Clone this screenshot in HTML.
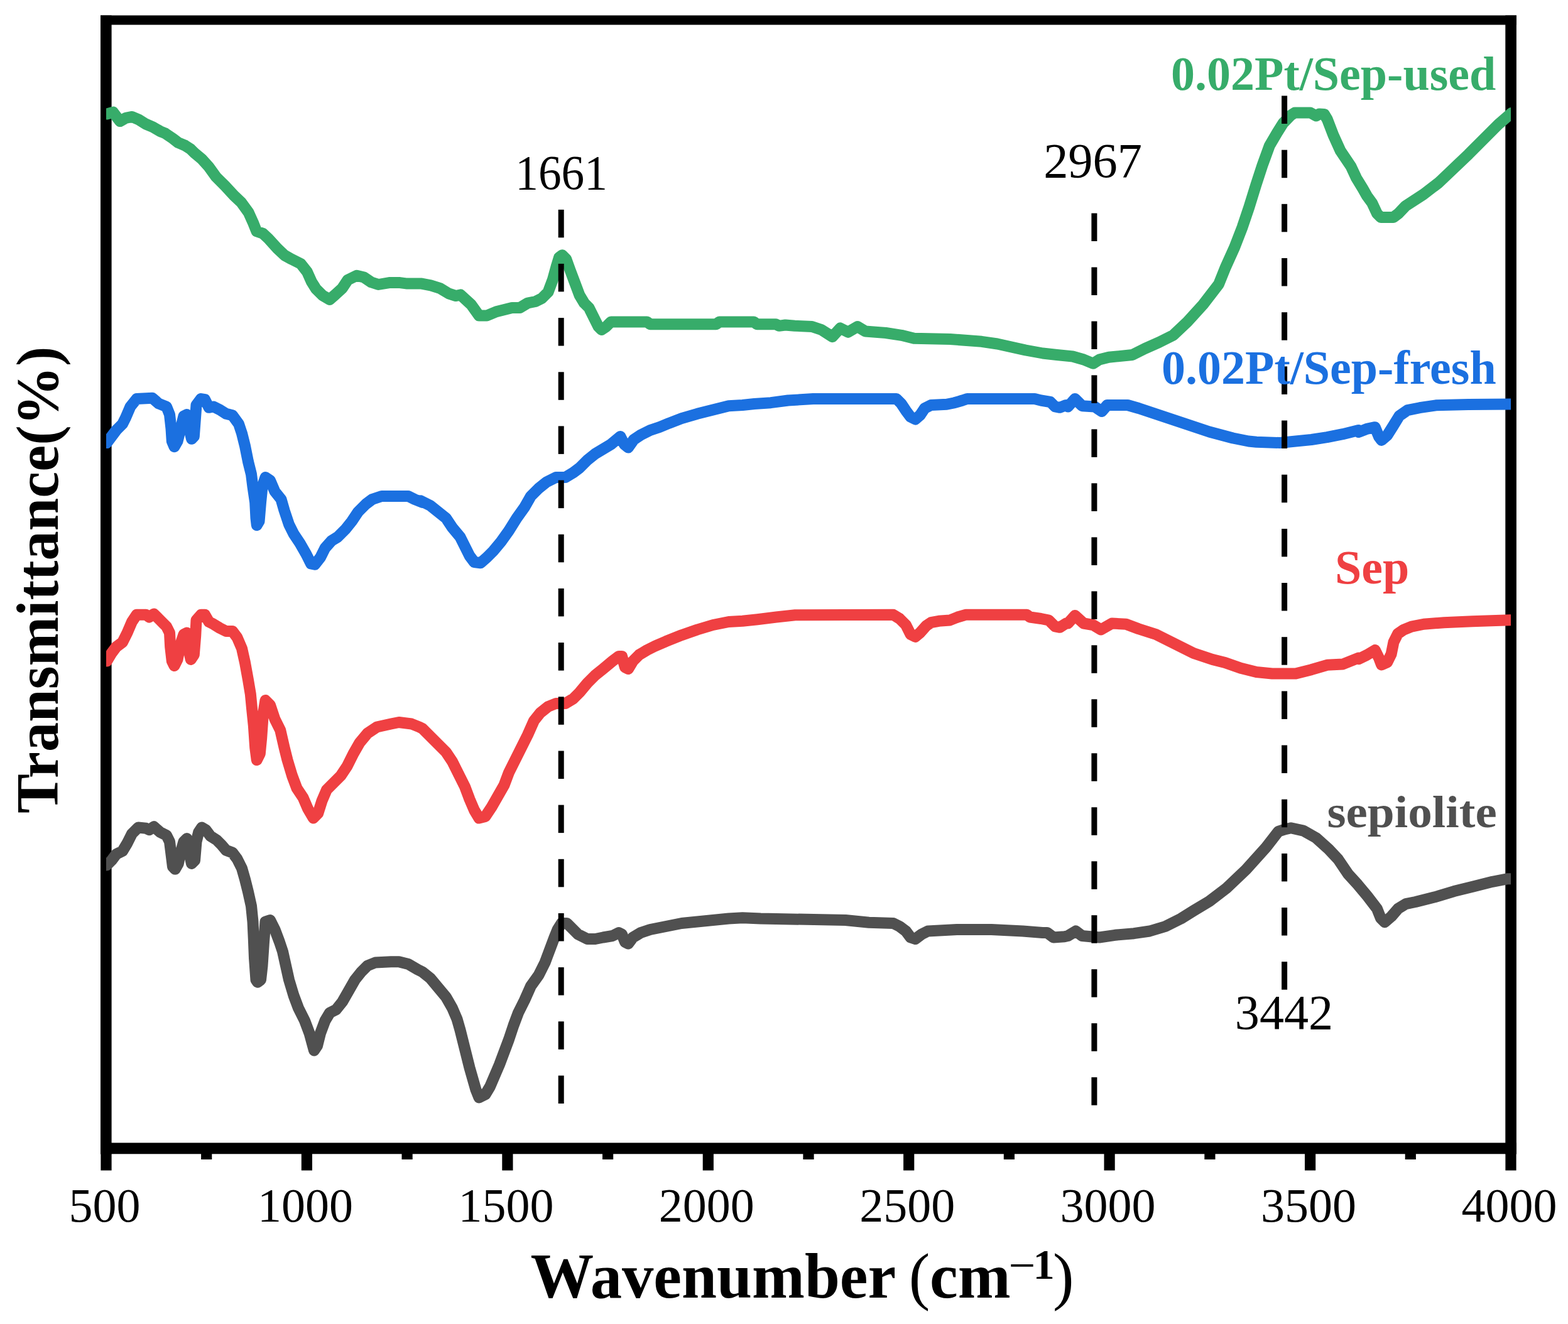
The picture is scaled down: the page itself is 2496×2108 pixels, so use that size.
<!DOCTYPE html>
<html><head><meta charset="utf-8"><title>FTIR spectra</title>
<style>html,body{margin:0;padding:0;background:#fff;}svg{display:block;}</style>
</head><body>
<svg width="2496" height="2108" viewBox="0 0 2496 2108"><g fill="#000">
<rect x="160" y="24.5" width="2254" height="15"/>
<rect x="160" y="1819.5" width="2254" height="17.8"/>
<rect x="160" y="24.5" width="17.6" height="1813"/>
<rect x="2396.3" y="24.5" width="17.6" height="1813"/>
<rect x="160.4" y="1830" width="17.2" height="33.5"/>
<rect x="479.8" y="1830" width="17.2" height="33.5"/>
<rect x="799.3" y="1830" width="17.2" height="33.5"/>
<rect x="1118.7" y="1830" width="17.2" height="33.5"/>
<rect x="1438.1" y="1830" width="17.2" height="33.5"/>
<rect x="1757.5" y="1830" width="17.2" height="33.5"/>
<rect x="2077.0" y="1830" width="17.2" height="33.5"/>
<rect x="2396.4" y="1830" width="17.2" height="33.5"/>
<rect x="320.1" y="1830" width="17.2" height="16"/>
<rect x="639.5" y="1830" width="17.2" height="16"/>
<rect x="959.0" y="1830" width="17.2" height="16"/>
<rect x="1278.4" y="1830" width="17.2" height="16"/>
<rect x="1597.8" y="1830" width="17.2" height="16"/>
<rect x="1917.3" y="1830" width="17.2" height="16"/>
<rect x="2236.7" y="1830" width="17.2" height="16"/>
</g>
<clipPath id="pc"><rect x="169" y="0" width="2236" height="2108"/></clipPath>
<g clip-path="url(#pc)">
<polyline points="160.0,181.6 170.1,181.6 180.1,178.7 191.0,193.1 200.2,187.9 210.3,185.9 220.3,190.2 231.8,197.4 243.3,202.3 254.8,208.9 263.4,212.6 274.9,220.4 283.5,227.0 295.0,231.9 303.6,237.6 309.4,243.3 320.8,252.8 332.3,265.5 343.8,281.5 358.2,295.9 372.5,311.4 384.0,322.3 395.5,338.1 402.7,353.9 408.4,368.3 418.5,371.7 427.1,379.8 441.5,395.6 453.0,406.5 464.4,412.8 478.8,420.0 488.9,432.9 496.0,448.7 503.2,460.2 513.3,470.2 524.8,476.9 533.4,469.4 544.9,458.8 553.5,445.8 567.8,438.7 579.3,441.5 590.8,449.3 602.3,453.0 619.5,450.1 636.8,450.1 648.3,451.6 671.2,451.6 685.6,454.4 700.0,458.8 714.3,467.4 725.8,471.1 733.0,469.4 750.0,485.0 762.5,502.5 775.0,502.5 790.0,496.2 805.0,492.5 815.0,490.0 827.5,490.0 840.0,482.5 852.5,480.0 862.5,475.0 872.5,465.0 880.0,445.0 886.2,422.5 890.0,410.0 895.0,406.2 901.2,412.5 907.5,430.0 915.0,450.0 922.5,470.0 930.0,482.5 937.5,490.0 942.5,500.0 947.5,510.0 952.5,520.0 957.5,525.0 965.0,520.0 972.5,512.5 990.0,512.5 1030.0,512.5 1035.0,516.2 1140.0,516.2 1145.0,512.5 1200.0,512.5 1205.0,516.2 1235.0,516.2 1240.0,518.8 1250.0,517.5 1265.0,518.8 1292.5,520.0 1307.5,525.0 1325.0,536.2 1337.5,522.5 1350.0,528.8 1365.0,520.0 1377.5,527.5 1410.0,530.0 1435.0,533.8 1455.0,538.8 1512.5,540.0 1562.5,543.8 1587.5,547.5 1610.0,552.5 1632.5,557.5 1660.0,562.5 1682.5,565.0 1707.5,567.5 1725.0,572.5 1740.0,578.8 1750.0,572.5 1765.0,568.8 1802.5,565.0 1822.5,555.0 1845.0,545.0 1867.5,533.8 1890.0,512.5 1915.0,485.0 1940.0,452.5 1951.0,425.2 1965.3,393.5 1977.6,361.7 1988.3,330.0 1999.1,295.2 2009.4,263.5 2021.0,231.7 2033.0,211.3 2042.6,196.0 2054.5,183.7 2061.0,179.5 2086.0,179.5 2095.0,184.5 2100.0,181.5 2108.0,182.0 2112.8,190.0 2122.4,215.0 2133.7,240.0 2150.5,265.0 2159.2,283.6 2169.2,300.0 2176.0,312.0 2184.2,323.2 2192.0,340.0 2198.0,346.0 2218.0,346.0 2226.0,340.0 2237.4,328.0 2266.0,309.4 2290.0,291.0 2337.6,245.7 2385.2,198.0 2406.0,180.0 2416.0,180.0" fill="none" stroke="#37AC6A" stroke-width="18" stroke-linejoin="round" stroke-linecap="butt"/>
<polyline points="160.0,705.0 170.0,705.0 177.5,695.0 185.0,685.0 195.0,675.0 200.0,665.0 207.5,647.5 217.5,635.0 242.5,633.8 252.5,642.5 265.0,647.5 270.0,660.0 272.5,682.5 273.8,702.5 277.5,711.2 282.5,702.5 287.5,682.5 292.5,662.5 297.5,660.0 301.2,682.5 305.0,698.8 308.8,695.0 311.2,662.5 312.5,645.0 320.0,635.0 326.2,636.2 332.5,648.8 340.0,647.5 350.0,652.5 360.0,658.8 370.0,661.2 380.0,675.0 385.0,690.0 390.0,710.0 395.0,735.0 400.0,755.0 402.5,775.0 406.2,800.0 407.5,825.0 408.8,836.2 412.5,830.0 415.0,800.0 417.5,775.0 422.5,760.0 430.0,765.0 437.5,782.5 447.5,795.0 452.5,812.5 460.0,835.0 467.5,850.0 477.5,865.0 487.5,882.5 495.0,897.5 501.2,898.8 510.0,887.5 517.5,872.5 527.5,861.2 537.5,855.0 550.0,842.5 560.0,830.0 570.0,815.0 582.5,802.5 592.5,795.0 607.5,790.0 650.0,790.0 660.0,795.0 672.5,800.0 670.0,797.5 685.0,805.0 697.5,815.0 710.0,825.0 720.0,840.0 732.5,855.0 740.0,870.0 747.5,885.0 755.0,895.0 765.0,896.2 775.0,887.5 785.0,877.5 797.5,862.5 810.0,845.0 822.5,825.0 835.0,807.5 845.0,790.0 857.5,777.5 870.0,767.5 885.0,760.0 900.0,760.0 912.5,752.5 922.5,745.0 935.0,732.5 947.5,722.5 960.0,715.0 972.5,707.5 987.5,695.0 993.8,707.5 1000.0,712.5 1008.8,700.0 1020.0,692.5 1035.0,685.0 1050.0,680.0 1065.0,673.8 1085.0,666.2 1110.0,658.8 1135.0,652.5 1160.0,646.2 1182.0,645.0 1200.8,643.0 1227.0,641.2 1254.5,637.5 1294.5,635.0 1427.0,635.0 1434.5,642.5 1442.0,653.8 1449.5,663.8 1457.0,667.5 1464.5,661.2 1472.0,650.0 1482.0,645.0 1507.0,643.8 1519.5,641.2 1532.0,637.5 1539.5,635.0 1647.0,635.0 1657.0,637.5 1672.0,640.0 1679.5,647.5 1687.0,648.8 1697.0,645.0 1700.0,647.5 1711.2,635.0 1722.5,646.2 1742.5,647.5 1753.8,655.0 1762.5,645.0 1795.0,645.0 1812.5,650.0 1850.0,662.5 1887.5,675.0 1925.0,687.5 1962.5,697.5 1987.5,702.5 2000.0,703.8 2037.5,705.0 2050.0,703.8 2087.5,700.0 2112.5,696.2 2137.5,691.2 2162.5,685.0 2162.9,688.0 2175.8,682.8 2188.8,680.2 2195.2,695.7 2199.1,700.9 2208.2,693.1 2217.2,678.9 2227.5,662.1 2240.5,653.1 2259.9,649.2 2285.7,645.3 2337.4,644.0 2403.3,643.4 2416.0,643.4" fill="none" stroke="#1B70E0" stroke-width="18" stroke-linejoin="round" stroke-linecap="butt"/>
<polyline points="160.0,1052.5 170.0,1052.5 177.5,1040.0 185.0,1030.0 195.0,1022.5 202.5,1007.5 210.0,990.0 217.5,978.8 232.5,978.8 237.5,982.5 245.0,977.5 255.0,987.5 265.0,997.5 270.0,1007.5 271.2,1030.0 273.8,1052.5 277.5,1060.0 282.5,1050.0 287.5,1025.0 292.5,1010.0 297.5,1007.5 300.0,1032.5 303.8,1050.0 308.8,1042.5 311.2,1012.5 312.5,987.5 320.0,978.8 326.2,978.8 332.5,990.0 340.0,993.8 350.0,1000.0 360.0,1005.0 370.0,1005.0 377.5,1015.0 385.0,1032.5 390.0,1055.0 395.0,1082.5 398.8,1105.0 401.2,1130.0 403.8,1155.0 406.2,1190.0 408.8,1210.0 413.8,1200.0 416.2,1175.0 418.8,1137.5 422.5,1115.0 430.0,1122.5 437.5,1145.0 446.2,1162.5 452.5,1190.0 457.5,1210.0 465.0,1235.0 472.5,1255.0 482.5,1270.0 490.0,1287.5 498.8,1302.5 506.2,1295.0 512.5,1275.0 520.0,1257.5 532.5,1245.0 542.5,1235.0 552.5,1220.0 562.5,1200.0 572.5,1182.5 585.0,1167.5 600.0,1157.5 622.5,1152.5 635.0,1150.0 655.0,1152.5 667.5,1157.5 672.5,1160.0 685.0,1172.5 697.5,1185.0 710.0,1197.5 720.0,1212.5 730.0,1232.5 740.0,1252.5 747.5,1272.5 755.0,1290.0 762.5,1302.5 772.5,1300.0 782.5,1285.0 792.5,1267.5 802.5,1250.0 810.0,1230.0 820.0,1210.0 830.0,1190.0 840.0,1170.0 850.0,1147.5 860.0,1135.0 872.5,1125.0 885.0,1120.0 900.0,1120.0 912.5,1112.5 922.5,1102.5 935.0,1087.5 947.5,1075.0 960.0,1065.0 975.0,1052.5 985.0,1045.0 990.0,1045.0 995.0,1062.5 1000.0,1065.0 1007.5,1052.5 1017.5,1042.5 1030.0,1035.0 1042.5,1028.8 1060.0,1021.2 1085.0,1011.2 1110.0,1002.5 1135.0,995.0 1160.0,990.0 1182.0,988.8 1205.8,986.2 1235.8,982.5 1265.8,979.2 1422.0,978.8 1432.0,985.0 1442.0,995.0 1449.5,1010.0 1457.0,1013.8 1464.5,1007.5 1474.5,996.2 1482.0,991.2 1494.5,988.8 1512.0,987.5 1524.5,982.5 1537.0,978.8 1634.5,978.8 1639.5,982.5 1657.0,985.0 1669.5,987.5 1679.5,997.5 1687.0,998.8 1697.0,992.5 1700.0,992.5 1711.2,980.0 1725.0,992.5 1740.0,995.0 1752.5,1002.5 1770.0,992.5 1792.5,993.8 1812.5,1001.2 1840.0,1010.0 1870.0,1025.0 1900.0,1040.0 1930.0,1050.0 1950.0,1055.0 1975.0,1063.8 2000.0,1070.0 2025.0,1072.5 2062.5,1072.5 2087.5,1066.2 2112.5,1058.8 2137.5,1057.5 2162.5,1047.5 2162.9,1049.3 2175.8,1042.9 2188.8,1035.1 2195.2,1048.0 2199.1,1058.4 2208.2,1054.5 2214.6,1041.6 2218.5,1022.2 2225.0,1009.2 2234.0,1002.8 2246.9,997.6 2266.3,993.7 2298.6,991.2 2343.9,989.2 2403.3,987.3 2416.0,987.3" fill="none" stroke="#EF4042" stroke-width="18" stroke-linejoin="round" stroke-linecap="butt"/>
<polyline points="160.0,1377.5 170.0,1377.5 177.5,1370.0 185.0,1360.0 195.0,1355.0 202.5,1342.5 210.0,1327.5 220.0,1317.5 232.5,1318.8 237.5,1321.2 245.0,1316.2 255.0,1325.0 265.0,1330.0 270.0,1340.0 272.5,1360.0 275.0,1380.0 278.8,1383.8 283.8,1375.0 287.5,1357.5 292.5,1340.0 297.5,1335.0 301.2,1357.5 305.0,1375.0 310.0,1370.0 312.5,1340.0 316.2,1325.0 321.2,1317.5 327.5,1321.2 335.0,1331.2 345.0,1337.5 352.5,1345.0 360.0,1353.8 370.0,1357.5 377.5,1367.5 385.0,1382.5 390.0,1400.0 395.0,1420.0 400.0,1442.5 402.5,1467.5 403.8,1495.0 405.0,1525.0 407.5,1560.0 410.0,1563.8 415.0,1560.0 417.5,1537.5 420.0,1500.0 422.5,1467.5 430.0,1465.0 437.5,1480.0 445.0,1500.0 450.0,1515.0 455.0,1537.5 460.0,1560.0 467.5,1585.0 475.0,1605.0 485.0,1625.0 492.5,1645.0 500.0,1672.5 505.0,1665.0 510.0,1645.0 517.5,1625.0 525.0,1612.5 535.0,1607.5 545.0,1595.0 555.0,1577.5 565.0,1560.0 575.0,1547.5 585.0,1537.5 597.5,1532.5 622.5,1531.2 635.0,1531.2 650.0,1535.0 665.0,1543.8 672.5,1547.5 685.0,1557.5 697.5,1572.5 710.0,1587.5 720.0,1605.0 727.5,1622.5 732.5,1640.0 737.5,1660.0 742.5,1680.0 747.5,1700.0 752.5,1717.5 757.5,1735.0 762.5,1747.5 772.5,1742.5 780.0,1730.0 787.5,1712.5 795.0,1695.0 802.5,1675.0 810.0,1655.0 817.5,1632.5 825.0,1612.5 835.0,1592.5 845.0,1570.0 857.5,1552.5 867.5,1532.5 875.0,1512.5 882.5,1492.5 887.5,1480.0 893.8,1470.0 902.5,1470.0 910.0,1477.5 920.0,1487.5 935.0,1495.0 947.5,1495.0 960.0,1492.5 975.0,1490.0 985.0,1485.0 990.0,1487.5 995.0,1500.0 1000.0,1502.5 1007.5,1492.5 1020.0,1485.0 1035.0,1480.0 1060.0,1475.0 1085.0,1470.0 1110.0,1467.5 1135.0,1465.0 1160.0,1462.5 1182.0,1461.2 1210.8,1462.5 1345.8,1465.0 1383.2,1468.8 1422.0,1470.0 1432.0,1475.0 1442.0,1482.5 1449.5,1492.5 1457.0,1495.0 1467.0,1487.5 1477.0,1482.5 1523.2,1480.0 1578.2,1480.0 1628.2,1482.5 1659.5,1485.0 1667.0,1485.0 1677.0,1492.5 1694.5,1491.2 1700.0,1490.0 1712.5,1482.5 1722.5,1490.0 1750.0,1492.5 1775.0,1488.8 1805.0,1486.2 1830.0,1482.5 1855.0,1475.0 1880.0,1462.5 1900.0,1450.0 1925.0,1435.0 1951.7,1414.7 1983.5,1384.5 2015.2,1349.2 2035.0,1323.8 2045.0,1320.5 2055.0,1318.3 2074.8,1322.6 2095.0,1334.0 2115.0,1352.0 2130.0,1368.0 2146.0,1391.6 2161.3,1408.4 2176.6,1426.8 2191.9,1446.7 2198.0,1462.0 2204.2,1468.2 2214.9,1459.0 2225.6,1446.7 2237.9,1439.1 2253.2,1436.0 2283.8,1428.3 2314.5,1419.1 2345.1,1411.5 2375.7,1403.8 2400.2,1399.2 2416.0,1399.2" fill="none" stroke="#505050" stroke-width="18" stroke-linejoin="round" stroke-linecap="butt"/>
</g>
<g fill="#000">
<rect x="888.7" y="333.8" width="9" height="44.5"/>
<rect x="888.7" y="419.9" width="9" height="44.5"/>
<rect x="888.7" y="506.1" width="9" height="44.5"/>
<rect x="888.7" y="592.3" width="9" height="44.5"/>
<rect x="888.7" y="678.4" width="9" height="44.5"/>
<rect x="888.7" y="764.6" width="9" height="44.5"/>
<rect x="888.7" y="850.8" width="9" height="44.5"/>
<rect x="888.7" y="936.9" width="9" height="44.5"/>
<rect x="888.7" y="1023.1" width="9" height="44.5"/>
<rect x="888.7" y="1109.3" width="9" height="44.5"/>
<rect x="888.7" y="1195.5" width="9" height="44.5"/>
<rect x="888.7" y="1281.6" width="9" height="44.5"/>
<rect x="888.7" y="1367.8" width="9" height="44.5"/>
<rect x="888.7" y="1454.0" width="9" height="44.5"/>
<rect x="888.7" y="1540.1" width="9" height="44.5"/>
<rect x="888.7" y="1626.3" width="9" height="44.5"/>
<rect x="888.7" y="1712.5" width="9" height="44.5"/>
<rect x="1737.4" y="339.5" width="9" height="44.5"/>
<rect x="1737.4" y="425.5" width="9" height="44.5"/>
<rect x="1737.4" y="511.5" width="9" height="44.5"/>
<rect x="1737.4" y="597.4" width="9" height="44.5"/>
<rect x="1737.4" y="683.4" width="9" height="44.5"/>
<rect x="1737.4" y="769.4" width="9" height="44.5"/>
<rect x="1737.4" y="855.4" width="9" height="44.5"/>
<rect x="1737.4" y="941.4" width="9" height="44.5"/>
<rect x="1737.4" y="1027.3" width="9" height="44.5"/>
<rect x="1737.4" y="1113.3" width="9" height="44.5"/>
<rect x="1737.4" y="1199.3" width="9" height="44.5"/>
<rect x="1737.4" y="1285.3" width="9" height="44.5"/>
<rect x="1737.4" y="1371.3" width="9" height="44.5"/>
<rect x="1737.4" y="1457.2" width="9" height="44.5"/>
<rect x="1737.4" y="1543.2" width="9" height="44.5"/>
<rect x="1737.4" y="1629.2" width="9" height="44.5"/>
<rect x="1737.4" y="1715.2" width="9" height="44.5"/>
<rect x="2040.1" y="152.5" width="9" height="44.5"/>
<rect x="2040.1" y="238.7" width="9" height="44.5"/>
<rect x="2040.1" y="324.8" width="9" height="44.5"/>
<rect x="2040.1" y="411.0" width="9" height="44.5"/>
<rect x="2040.1" y="497.2" width="9" height="44.5"/>
<rect x="2040.1" y="583.4" width="9" height="44.5"/>
<rect x="2040.1" y="669.5" width="9" height="44.5"/>
<rect x="2040.1" y="755.7" width="9" height="44.5"/>
<rect x="2040.1" y="841.9" width="9" height="44.5"/>
<rect x="2040.1" y="928.0" width="9" height="44.5"/>
<rect x="2040.1" y="1014.2" width="9" height="44.5"/>
<rect x="2040.1" y="1100.4" width="9" height="44.5"/>
<rect x="2040.1" y="1186.5" width="9" height="44.5"/>
<rect x="2040.1" y="1272.7" width="9" height="44.5"/>
<rect x="2040.1" y="1358.9" width="9" height="44.5"/>
<rect x="2040.1" y="1445.0" width="9" height="44.5"/>
<rect x="2040.1" y="1531.2" width="9" height="44.5"/>
</g>
<g font-family="'Liberation Serif', 'Times New Roman', serif">
<text x="166.5" y="1945" font-size="76" fill="#000" text-anchor="middle">500</text>
<text x="485.9" y="1945" font-size="76" fill="#000" text-anchor="middle">1000</text>
<text x="805.4" y="1945" font-size="76" fill="#000" text-anchor="middle">1500</text>
<text x="1124.8" y="1945" font-size="76" fill="#000" text-anchor="middle">2000</text>
<text x="1444.2" y="1945" font-size="76" fill="#000" text-anchor="middle">2500</text>
<text x="1763.6" y="1945" font-size="76" fill="#000" text-anchor="middle">3000</text>
<text x="2083.1" y="1945" font-size="76" fill="#000" text-anchor="middle">3500</text>
<text x="2402.5" y="1945" font-size="76" fill="#000" text-anchor="middle">4000</text>
<text x="893.6" y="301.3" font-size="77.5" fill="#000" textLength="146.6" lengthAdjust="spacingAndGlyphs" text-anchor="middle">1661</text>
<text x="1739.6" y="281.5" font-size="77.5" fill="#000" textLength="156.9" lengthAdjust="spacingAndGlyphs" text-anchor="middle">2967</text>
<text x="2044" y="1638" font-size="77.5" fill="#000" textLength="156.4" lengthAdjust="spacingAndGlyphs" text-anchor="middle">3442</text>
<text x="1864" y="143" font-size="76" font-weight="bold" fill="#37AC6A">0.02Pt/Sep-used</text>
<text x="1849" y="610.6" font-size="76" font-weight="bold" fill="#1B70E0">0.02Pt/Sep-fresh</text>
<text x="2125" y="929" font-size="76" font-weight="bold" fill="#EF4042">Sep</text>
<text x="2112.5" y="1317.3" font-size="72" font-weight="bold" fill="#505050" textLength="270.3" lengthAdjust="spacingAndGlyphs">sepiolite</text>
<text y="2065.6" font-size="100.7" font-weight="bold" fill="#000"><tspan x="844.5">Wavenumber </tspan><tspan x="1446.7" font-weight="normal">(</tspan><tspan x="1480">cm</tspan><tspan x="1605.5" y="2040" font-size="76" font-weight="normal">−</tspan><tspan x="1644.5" y="2036.3" font-size="68.5">1</tspan><tspan x="1676" y="2065.6" font-weight="normal">)</tspan></text>
<text transform="translate(91.6,1295) rotate(-90)" x="0" y="0" font-size="94.5" font-weight="bold" fill="#000">Transmittance(%)</text>
</g></svg>
</body></html>
